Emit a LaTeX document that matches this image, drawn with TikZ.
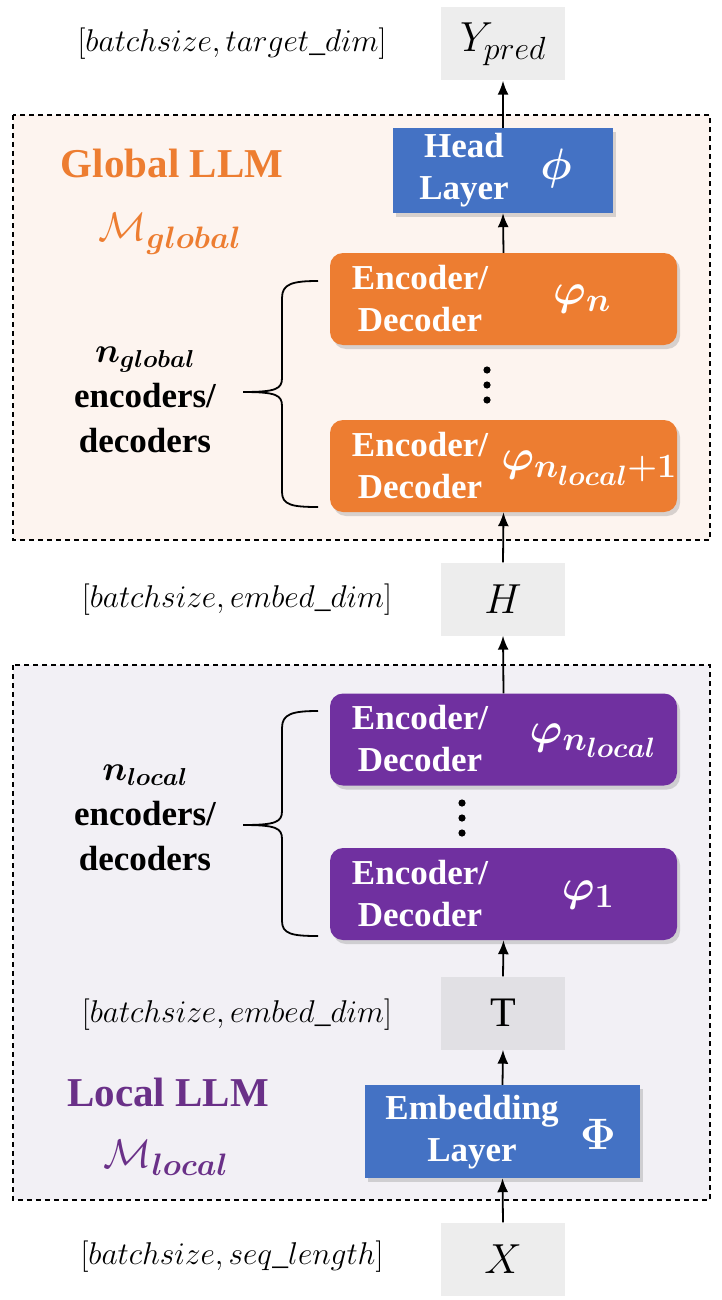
\RequirePackage{fix-cm}
\documentclass[tikz,border=0pt]{standalone}
\usepackage{fontspec}
\setmainfont{Liberation Serif}
\usepackage{amsmath}
\usepackage{bm}
\DeclareMathSizes{42}{42}{32}{26}
\DeclareMathSizes{44}{44}{34}{28}
\DeclareMathSizes{40}{40}{31}{25}
\usetikzlibrary{arrows.meta,shadows}
\definecolor{cOrange}{HTML}{ED7D31}
\definecolor{cBlue}{HTML}{4472C4}
\definecolor{cPurple}{HTML}{7030A0}
\definecolor{cGlobalBg}{HTML}{FDF4EF}
\definecolor{cLocalBg}{HTML}{F2F0F5}
\definecolor{cGrey}{HTML}{EDEDED}
\definecolor{cGreyT}{HTML}{E1E0E4}
\definecolor{cLocalTxt}{HTML}{6A3088}
\tikzset{
  frame/.style={draw=black, dashed, dash pattern=on 5pt off 4pt, line width=1.3pt},
  tensorbox/.style={fill=cGrey, minimum width=124pt, minimum height=73pt, inner sep=0pt, font=\fontsize{42}{46}\selectfont},
  layerbox/.style={fill=cBlue, inner sep=0pt, drop shadow={shadow xshift=3pt, shadow yshift=-4pt, opacity=0.3}},
  encbox/.style={rounded corners=13pt, inner sep=0pt, minimum width=347pt, minimum height=92pt, drop shadow={shadow xshift=3pt, shadow yshift=-4pt, opacity=0.3}},
  boxtxt/.style={text=white, font=\fontsize{35}{42}\selectfont\bfseries, align=center, inner sep=0pt},
  mathtxt/.style={text=white, font=\fontsize{44}{46}\selectfont, inner sep=0pt},
  dimlabel/.style={font=\fontsize{31.5}{36}\selectfont, inner sep=0pt},
  flow/.style={-{Latex[length=14pt,width=11pt]}, line width=1.8pt},
  bracestyle/.style={line width=1.8pt},
  sidetxt/.style={font=\fontsize{35}{45}\selectfont\bfseries, align=center, inner sep=0pt},
}
\begin{document}
\begin{tikzpicture}[x=1pt,y=-1pt]
\useasboundingbox (0,0) rectangle (722,1300);
% frames
\draw[frame, fill=cGlobalBg] (13,115) rectangle (710,540);
\draw[frame, fill=cLocalBg] (13,665) rectangle (710,1200);

% tensor boxes
\node[tensorbox] (ypred) at (503,44) {$Y_{pred}$};
\node[tensorbox] (h) at (503,599) {$H$};
\node[tensorbox, fill=cGreyT] (t) at (503,1013) {T};
\node[tensorbox] (x) at (503,1259) {$X$};

% dim labels
\node[dimlabel] (lbly) at (232,44) {$[batchsize,target\_dim]$};
\node[dimlabel] (lblh) at (237,600) {$[batchsize,embed\_dim]$};
\node[dimlabel] (lblt) at (237,1015) {$[batchsize,embed\_dim]$};
\node[dimlabel] (lblx) at (232,1257) {$[batchsize,seq\_length]$};

% head layer
\node[layerbox, minimum width=220pt, minimum height=85pt] (head) at (503,170.5) {};
\node[boxtxt] (headtxt) at (464,170) {Head\\Layer};
\node[mathtxt] (headphi) at (556,168) {$\bm{\phi}$};

% global encoders
\node[encbox, fill=cOrange] (encn) at (503.5,299) {};
\node[boxtxt] (encntxt) at (420,299) {Encoder/\\Decoder};
\node[mathtxt] (encnphi) at (582,299) {$\bm{\varphi}_{\bm{n}}$};

\node[encbox, fill=cOrange] (encg1) at (503.5,466) {};
\node[boxtxt] (encg1txt) at (420,466) {Encoder/\\Decoder};
\node[mathtxt] (encg1phi) at (589,468) {$\bm{\varphi}_{\bm{n}_{\bm{local}}\bm{+1}}$};

\fill (487,370) circle (3.6pt) (487,385) circle (3.6pt) (487,400) circle (3.6pt);

% local encoders
\node[encbox, fill=cPurple] (encl) at (503.5,739.5) {};
\node[boxtxt] (encltxt) at (420,739) {Encoder/\\Decoder};
\node[mathtxt] (enclphi) at (593,741) {$\bm{\varphi}_{\bm{n}_{\bm{local}}}$};

\node[encbox, fill=cPurple] (enc1) at (503.5,894) {};
\node[boxtxt] (enc1txt) at (420,894) {Encoder/\\Decoder};
\node[mathtxt] (enc1phi) at (588,895) {$\bm{\varphi}_{\bm{1}}$};

\fill (462,803) circle (3.6pt) (462,818) circle (3.6pt) (462,833) circle (3.6pt);

% embedding layer
\node[layerbox, minimum width=275pt, minimum height=93pt] (emb) at (502.5,1131.5) {};
\node[boxtxt] (embtxt) at (472,1132) {Embedding\\Layer};
\node[mathtxt] (embphi) at (598,1134) {$\bm{\Phi}$};

% arrows
\draw[flow] (x.north) -- (emb.south);
\draw[flow] (emb.north) -- (t.south);
\draw[flow] (t.north) -- (enc1.south);
\draw[flow] (encl.north) -- (h.south);
\draw[flow] (h.north) -- (encg1.south);
\draw[flow] (encn.north) -- (head.south);
\draw[flow] (head.north) -- (ypred.south);

% braces
\draw[bracestyle] (318,281) .. controls (292,281) and (282,284) .. (282,298) -- (282,378) .. controls (282,389) and (276,392) .. (243,392)
  .. controls (276,392) and (282,395) .. (282,406) -- (282,492) .. controls (282,505) and (292,507) .. (318,507);
\draw[bracestyle] (318,711) .. controls (292,711) and (282,714) .. (282,728) -- (282,811) .. controls (282,822) and (276,825) .. (243,825)
  .. controls (276,825) and (282,828) .. (282,839) -- (282,921) .. controls (282,934) and (292,936) .. (318,936);

% side labels
\node[sidetxt] (gside) at (145,400) {$\bm{n}_{\bm{global}}$\\encoders/\\decoders};
\node[sidetxt] (lside) at (145,818) {$\bm{n}_{\bm{local}}$\\encoders/\\decoders};

\node[font=\fontsize{41}{44}\selectfont\bfseries, text=cOrange, inner sep=0pt] (gtitle) at (172,163) {Global LLM};
\node[font=\fontsize{40}{42}\selectfont, text=cOrange, inner sep=0pt] (gm) at (170,234) {$\mathcal{M}_{\bm{global}}$};
\node[font=\fontsize{41}{44}\selectfont\bfseries, text=cLocalTxt, inner sep=0pt] (ltitle) at (168,1092) {Local LLM};
\node[font=\fontsize{40}{42}\selectfont, text=cLocalTxt, inner sep=0pt] (lm) at (166,1158) {$\mathcal{M}_{\bm{local}}$};
\end{tikzpicture}
\end{document}
